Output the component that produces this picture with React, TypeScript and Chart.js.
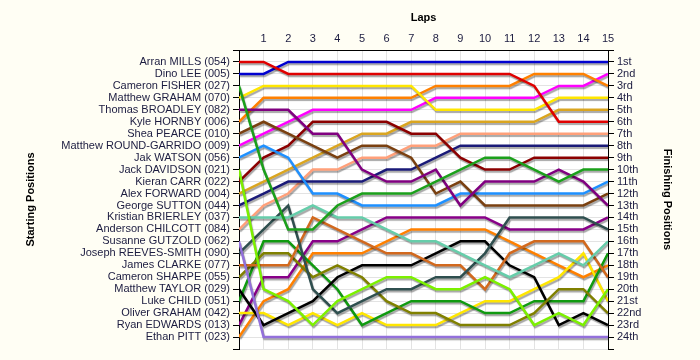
import React, { useEffect, useRef } from "react";
import { Chart, registerables } from "chart.js";

Chart.register(...registerables);

// ---------- data ----------
const laps = [0, 1, 2, 3, 4, 5, 6, 7, 8, 9, 10, 11, 12, 13, 14, 15];

const startNames = [
  "Arran MILLS (054)",
  "Dino LEE (005)",
  "Cameron FISHER (027)",
  "Matthew GRAHAM (070)",
  "Thomas BROADLEY (082)",
  "Kyle HORNBY (006)",
  "Shea PEARCE (010)",
  "Matthew ROUND-GARRIDO (009)",
  "Jak WATSON (056)",
  "Jack DAVIDSON (021)",
  "Kieran CARR (022)",
  "Alex FORWARD (004)",
  "George SUTTON (044)",
  "Kristian BRIERLEY (037)",
  "Anderson CHILCOTT (084)",
  "Susanne GUTZOLD (062)",
  "Joseph REEVES-SMITH (090)",
  "James CLARKE (077)",
  "Cameron SHARPE (055)",
  "Matthew TAYLOR (029)",
  "Luke CHILD (051)",
  "Oliver GRAHAM (042)",
  "Ryan EDWARDS (013)",
  "Ethan PITT (023)",
];

const finishLabels = [
  "1st", "2nd", "3rd", "4th", "5th", "6th", "7th", "8th", "9th", "10th", "11th", "12th",
  "13th", "14th", "15th", "16th", "17th", "18th", "19th", "20th", "21st", "22nd", "23rd", "24th",
];

const posArranMills = [1, 1, 2, 2, 2, 2, 2, 2, 2, 2, 2, 2, 3, 6, 6, 6];
const posDinoLee = [2, 2, 1, 1, 1, 1, 1, 1, 1, 1, 1, 1, 1, 1, 1, 1];
const posCameronFisher = [3, 10, 15, 15, 13, 12, 12, 12, 11, 10, 9, 9, 10, 11, 10, 10];
const posMatthewGraham = [4, 3, 3, 3, 3, 3, 3, 3, 5, 5, 5, 5, 5, 4, 4, 4];
const posThomasBroadley = [5, 5, 5, 7, 7, 10, 11, 11, 10, 13, 11, 11, 11, 10, 11, 13];
const posKyleHornby = [6, 4, 4, 4, 4, 4, 4, 4, 3, 3, 3, 3, 2, 2, 2, 3];
const posSheaPearce = [7, 6, 7, 8, 9, 8, 8, 9, 12, 11, 13, 13, 13, 13, 13, 12];
const posMatthewRoundGarrido = [8, 7, 6, 5, 5, 5, 5, 5, 4, 4, 4, 4, 4, 3, 3, 2];
const posJakWatson = [9, 8, 9, 12, 12, 13, 13, 13, 13, 12, 12, 12, 12, 12, 12, 11];
const posJackDavidson = [10, 20, 21, 23, 21, 20, 19, 19, 20, 20, 19, 20, 23, 22, 23, 20];
const posKieranCarr = [11, 9, 8, 6, 6, 6, 6, 7, 7, 9, 10, 10, 9, 9, 9, 9];
const posAlexForward = [12, 11, 10, 9, 8, 7, 7, 6, 6, 6, 6, 6, 6, 5, 5, 5];
const posGeorgeSutton = [13, 12, 11, 11, 11, 11, 10, 10, 9, 8, 8, 8, 8, 8, 8, 8];
const posKristianBrierley = [14, 14, 14, 13, 14, 14, 15, 16, 16, 17, 18, 19, 18, 17, 18, 16];
const posAndersonChilcott = [15, 13, 12, 10, 10, 9, 9, 8, 8, 7, 7, 7, 7, 7, 7, 7];
const posSusanneGutzold = [16, 24, 24, 24, 24, 24, 24, 24, 24, 24, 24, 24, 24, 24, 24, 24];
const posJosephReevesSmith = [17, 15, 13, 20, 22, 21, 20, 20, 19, 19, 17, 14, 14, 14, 14, 15];
const posJamesClarke = [18, 18, 18, 14, 15, 16, 17, 17, 18, 18, 20, 17, 16, 16, 16, 19];
const posCameronSharpe = [19, 17, 17, 19, 18, 19, 21, 22, 22, 23, 23, 23, 22, 20, 20, 22];
const posMatthewTaylor = [20, 23, 22, 21, 19, 18, 18, 18, 17, 16, 16, 18, 19, 23, 22, 23];
const posLukeChild = [21, 16, 16, 18, 20, 23, 22, 21, 21, 21, 22, 22, 21, 21, 21, 17];
const posOliverGraham = [22, 22, 23, 22, 23, 22, 23, 23, 23, 22, 21, 21, 20, 19, 17, 21];
const posRyanEdwards = [23, 19, 19, 16, 16, 15, 14, 14, 14, 14, 14, 15, 15, 15, 15, 14];
const posEthanPitt = [24, 21, 20, 17, 17, 17, 16, 15, 15, 15, 15, 16, 17, 18, 19, 18];

const positionsByDriver = [
  posArranMills, posDinoLee, posCameronFisher, posMatthewGraham, posThomasBroadley,
  posKyleHornby, posSheaPearce, posMatthewRoundGarrido, posJakWatson, posJackDavidson,
  posKieranCarr, posAlexForward, posGeorgeSutton, posKristianBrierley, posAndersonChilcott,
  posSusanneGutzold, posJosephReevesSmith, posJamesClarke, posCameronSharpe, posMatthewTaylor,
  posLukeChild, posOliverGraham, posRyanEdwards, posEthanPitt,
];

const driverColors = [
  "#e00000", "#0000d0", "#1ba01b", "#ffe600", "#800080", "#ff8000",
  "#7a4010", "#ff00ff", "#1e90ff", "#7cf000", "#8b0000", "#daa520",
  "#1a1a78", "#66cdaa", "#ffa07a", "#9370db", "#2f4f4f", "#d2691e",
  "#808000", "#000000", "#109a10", "#ffe600", "#880088", "#ff8000",
];

// ---------- styling ----------
const TEXT = "#1c1c40";
const GRID = "#e3e3e3";
const PAGE_BG = "#fffef4";

const shadowPlugin = {
  id: "lineShadow",
  beforeDatasetDraw(chart: any) {
    const ctx = chart.ctx;
    ctx.save();
    ctx.shadowColor = "rgba(0,0,0,0.35)";
    ctx.shadowBlur = 1;
    ctx.shadowOffsetX = 1;
    ctx.shadowOffsetY = 2;
  },
  afterDatasetDraw(chart: any) {
    chart.ctx.restore();
  },
};

const bgPlugin = {
  id: "bg",
  beforeDraw(chart: any) {
    const { ctx, chartArea, width, height } = chart;
    ctx.save();
    ctx.fillStyle = PAGE_BG;
    ctx.fillRect(0, 0, width, height);
    ctx.fillStyle = "#ffffff";
    ctx.fillRect(chartArea.left, chartArea.top, chartArea.right - chartArea.left, chartArea.bottom - chartArea.top);
    ctx.restore();
  },
};

export default function App() {
  const ref = useRef<HTMLCanvasElement | null>(null);

  useEffect(() => {
    if (!ref.current) return;
    Chart.defaults.font.family = "'Liberation Sans', Arial, sans-serif";
    Chart.defaults.font.size = 11;

    const datasets = positionsByDriver.map((arr, i) => ({
      label: startNames[i],
      data: laps.map((lap, j) => ({ x: lap, y: arr[j] })),
      borderColor: driverColors[i],
      backgroundColor: driverColors[i],
      borderWidth: 2.5,
      pointRadius: 0,
      tension: 0,
      fill: false,
      yAxisID: "y",
      xAxisID: "x",
    }));

    const chart = new Chart(ref.current, {
      type: "line",
      data: { datasets },
      options: {
        animation: false,
        responsive: false,
        maintainAspectRatio: false,
        devicePixelRatio: 1,
        layout: { padding: { left: 0, right: 0, top: 0, bottom: 11 } },
        plugins: {
          legend: { display: false },
          tooltip: { enabled: false },
        },
        scales: {
          x: {
            type: "linear",
            position: "top",
            min: 0,
            max: 15,
            afterFit: (s: any) => {
              s.height = 50;
            },
            ticks: {
              stepSize: 1,
              autoSkip: false,
              maxRotation: 0,
              padding: 4,
              color: TEXT,
              font: { size: 11 },
              callback: (v: any) => (v === 0 ? "" : String(v)),
            },
            grid: { color: GRID, drawTicks: false, lineWidth: 1 },
            border: { color: "#000", width: 1 },
            title: {
              display: true,
              text: "Laps",
              color: "#000",
              font: { size: 11, weight: "bold" },
              padding: { top: 11, bottom: 0 },
            },
          },
          y: {
            type: "linear",
            position: "left",
            min: 0,
            max: 25,
            reverse: true,
            afterFit: (s: any) => {
              s.width = 239;
            },
            ticks: {
              stepSize: 1,
              autoSkip: false,
              padding: 3,
              color: TEXT,
              font: { size: 11 },
              callback: (v: any) => startNames[v - 1] ?? "",
            },
            grid: { color: GRID, tickColor: "#000", tickLength: 6, lineWidth: 1 },
            border: { color: "#000", width: 1 },
            title: {
              display: true,
              text: "Starting Positions",
              color: "#000",
              font: { size: 11, weight: "bold" },
              padding: { top: 24, bottom: 0 },
            },
          },
          y2: {
            type: "linear",
            position: "right",
            min: 0,
            max: 25,
            reverse: true,
            afterFit: (s: any) => {
              s.width = 92;
            },
            ticks: {
              stepSize: 1,
              autoSkip: false,
              padding: 3,
              color: TEXT,
              font: { size: 11 },
              callback: (v: any) => finishLabels[v - 1] ?? "",
            },
            grid: { drawOnChartArea: false, tickColor: "#000", tickLength: 6 },
            border: { color: "#000", width: 1 },
            title: {
              display: true,
              text: "Finishing Positions",
              color: "#000",
              font: { size: 11, weight: "bold" },
              padding: { top: 26, bottom: 0 },
            },
          },
        },
      } as any,
      plugins: [bgPlugin, shadowPlugin],
    });

    return () => chart.destroy();
  }, []);

  return (
    <div style={{ position: "fixed", left: 0, top: 0, width: 700, height: 360, background: PAGE_BG }}>
      <canvas ref={ref} width={700} height={360} style={{ display: "block", width: 700, height: 360 }} />
    </div>
  );
}
